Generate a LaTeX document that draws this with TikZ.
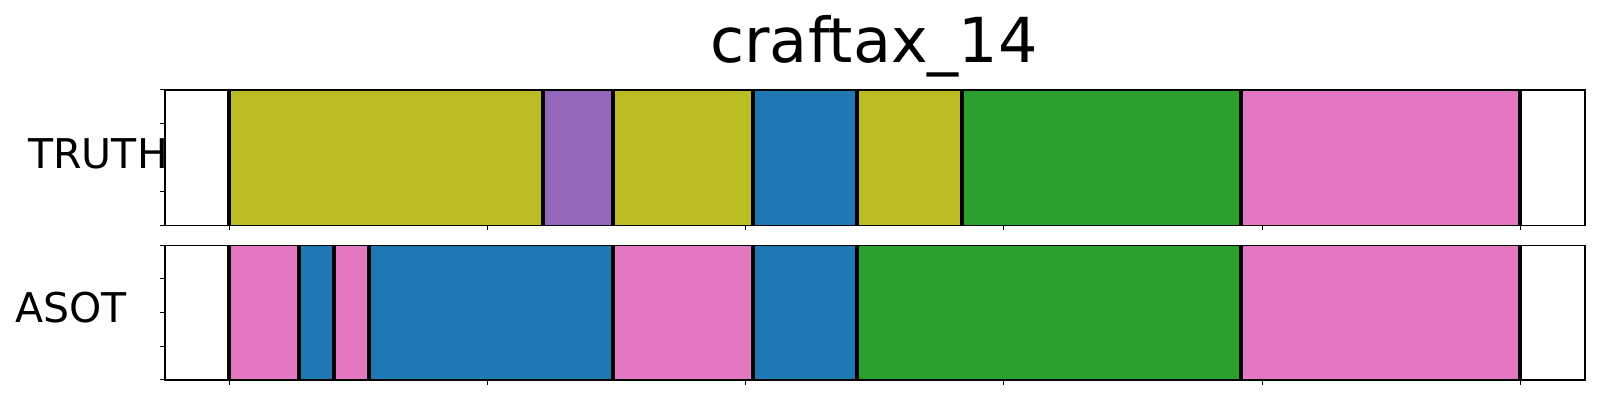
\documentclass[tikz,border=0pt]{standalone}
\usepackage{fontspec}
\setmainfont{DejaVu Sans}
\definecolor{tabolive}{HTML}{BCBD22}
\definecolor{tabpurple}{HTML}{9467BD}
\definecolor{tabblue}{HTML}{1F77B4}
\definecolor{tabgreen}{HTML}{2CA02C}
\definecolor{tabpink}{HTML}{E377C2}
\begin{document}
\begin{tikzpicture}[x=0.5pt,y=-0.5pt]
			\useasboundingbox (0,0) rectangle (1600,400);
			\node[anchor=base,font=\fontsize{31}{31}\selectfont,inner sep=0] (title) at (874,63) {craftax\_14};
			\node[anchor=base west,font=\fontsize{20.5}{20.5}\selectfont,inner sep=0] (truth) at (28,169) {TRUTH};
			\node[anchor=base west,font=\fontsize{20.5}{20.5}\selectfont,inner sep=0] (asot) at (15,323) {ASOT};
			% TRUTH row
			\fill [white] (165,90) rectangle (1585,225.3);
			\foreach \a/\b/\c in {229.3/542.7/tabolive,542.7/612.7/tabpurple,612.7/752.7/tabolive,752.7/856.7/tabblue,856.7/962/tabolive,962/1241/tabgreen,1241/1520/tabpink}
				\fill [\c] (\a,90) rectangle (\b,225.3);
			\foreach \x in {229.3,542.7,612.7,752.7,856.7,962,1241,1520}
				\draw [line width=2pt] (\x,90)-- (\x,225.3);
			\draw [line width=0.6pt] (165,90) rectangle (1585,225.3);
			% ASOT row
			\fill [white] (165,245.3) rectangle (1585,380);
			\foreach \a/\b/\c in {229.3/299/tabpink,299/333.7/tabblue,333.7/369/tabpink,369/612.7/tabblue,612.7/752.7/tabpink,752.7/856.7/tabblue,856.7/1241/tabgreen,1241/1520/tabpink}
				\fill [\c] (\a,245.3) rectangle (\b,380);
			\foreach \x in {229.3,299,333.7,369,612.7,752.7,856.7,1241,1520}
				\draw [line width=2pt] (\x,245.3)-- (\x,380);
			\draw [line width=0.6pt] (165,245.3) rectangle (1585,380);
			% ticks
			\foreach \x in {229.3,487.5,745.7,1003.9,1262.1,1520.3} {
				\draw [line width=0.5pt] (\x,225.3)-- (\x,230.3);
				\draw [line width=0.5pt] (\x,380)-- (\x,385);
			}
			\foreach \y in {90,123.8,157.7,191.5,225.3,245.3,279,312.7,346.3,380}
				\draw [line width=0.5pt] (165,\y)-- (160,\y);
		\end{tikzpicture}
\end{document}
